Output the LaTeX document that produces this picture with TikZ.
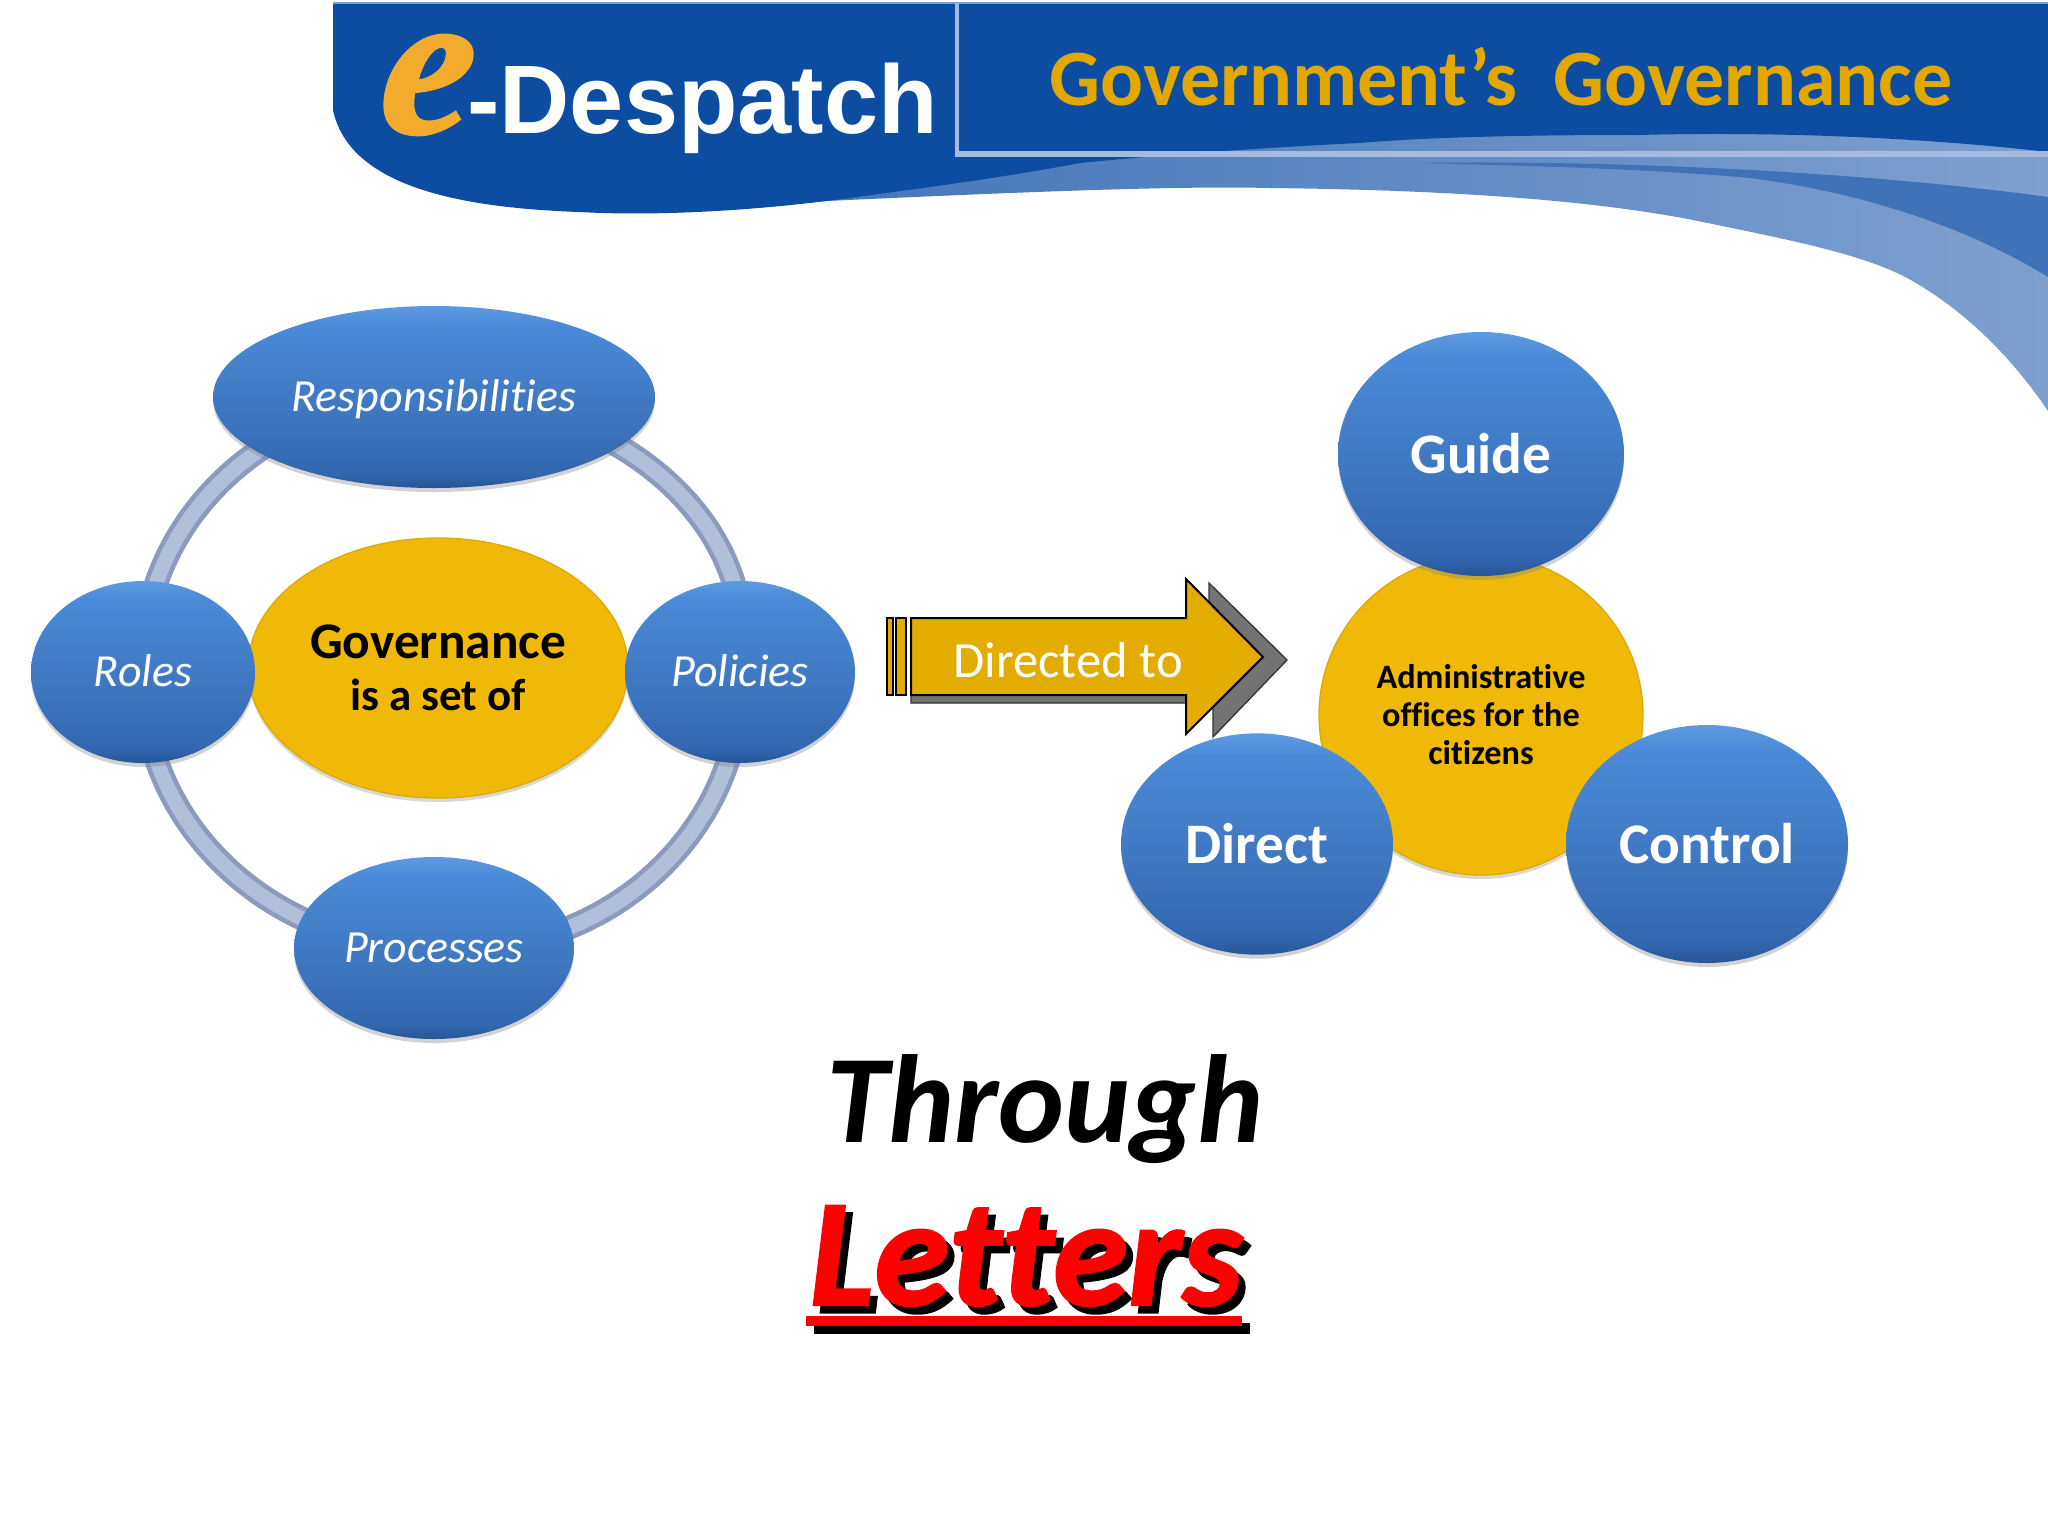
\documentclass[tikz,border=0pt]{standalone}
\usepackage{fontspec}
\setmainfont{Carlito}[Ligatures=NoCommon]
\newfontfamily\heavyfont{Carlito}[Ligatures=NoCommon,BoldItalicFeatures={FakeBold=1.4}]
\newfontfamily\logofont{Liberation Sans}
\newfontfamily\efont{Liberation Serif}[BoldItalicFeatures={FakeBold=1.6,FakeSlant=0.1}]
\usetikzlibrary{backgrounds,shadows,shapes.geometric}

\definecolor{headblue}{HTML}{0C4DA2}
\definecolor{wavelight}{HTML}{7EA0CF}
\definecolor{wavemid}{HTML}{3F72B7}
\definecolor{framelight}{HTML}{A6BAE0}
\definecolor{titlegold}{HTML}{E3A800}
\definecolor{logogold}{HTML}{F2AB2C}
\definecolor{arrowgold}{HTML}{E2AC00}
\definecolor{ballgold}{HTML}{F0B907}
\definecolor{ringblue}{HTML}{B2BFDB}
\definecolor{ringedge}{HTML}{8C9BBD}
\definecolor{ballrimlow}{HTML}{285596}
\definecolor{balllow}{HTML}{3267AF}
\definecolor{ballmid}{HTML}{417AC4}
\definecolor{ballhigh}{HTML}{4A8AD8}
\definecolor{ballrimtop}{HTML}{5E9AE2}
\pgfdeclareverticalshading{ballshade}{100bp}{color(0bp)=(ballrimlow);
  color(25bp)=(ballrimlow); color(29bp)=(balllow);
  color(50bp)=(ballmid); color(70bp)=(ballhigh);
  color(75bp)=(ballrimtop); color(100bp)=(ballrimtop)}

\tikzset{
  blueball/.style={ellipse,inner sep=0pt,shading=ballshade,text=white,align=center,
    drop shadow={shadow xshift=0pt,shadow yshift=-3pt,opacity=.35}},
  goldball/.style={ellipse,inner sep=0pt,draw=ballgold!92!black,line width=1pt,fill=ballgold,text=black,align=center,
    drop shadow={shadow xshift=0pt,shadow yshift=-3pt,opacity=.3}},
  slantlabel/.style={font=\fontsize{34.5}{38}\selectfont\itshape,text height=21pt,text depth=0pt},
  boldlabel/.style={font=\fontsize{43}{50}\selectfont\bfseries},
  ringline/.style={draw=ringedge,line width=3.5pt,double=ringblue,double distance=11pt}
}

\begin{document}
\begin{tikzpicture}[x=0.75pt,y=0.75pt,yscale=-1,xscale=1]
\useasboundingbox (0,0) rectangle (2048,1536);
%Shape: Wave
\path [left color=wavemid,middle color=wavelight!85!wavemid,right color=wavelight]   (700,207) .. controls (1050,190) and (1180,186) .. (1270,188) .. controls (1450,190) and (1590,200) .. (1693,220) .. controls (1790,240) and (1870,255) .. (1916,283) .. controls (1965,312) and (2010,355) .. (2048,411) -- (2048,120) -- (1300,120) -- cycle ;
%Shape: Stripe
\fill [wavemid]   (1415,163) .. controls (1600,160) and (1850,170) .. (2048,197) -- (2048,277) .. controls (1980,235) and (1880,195) .. (1750,178) .. controls (1640,168) and (1500,165) .. cycle ;
%Shape: Header
\fill [headblue]   (333,3) -- (2048,3) -- (2048,152) .. controls (1900,135) and (1750,132) .. (1638,135) .. controls (1500,135) and (1420,138) .. (1359,143) .. controls (1220,150) and (1130,158) .. (1080,163) .. controls (1000,178) and (930,187) .. (857,197) .. controls (750,212) and (650,216) .. (579,212) .. controls (470,208) and (350,190) .. (333,110) -- cycle ;
%Straight Lines
\draw [wavelight,line width=1.5pt]   (333,3) -- (2048,3) ;
\draw [framelight,line width=3.2pt]   (957,3) -- (957,154) ;
\draw [framelight,line width=4.5pt]   (955,154) -- (2048,154) ;
% Text Node
\draw (423,85) node (logoe) [inner sep=0pt,text=logogold,font=\efont\fontsize{100}{100}\selectfont\bfseries\itshape] {\scalebox{1.55}{e}};
% Text Node
\draw (467,133) node (logo) [anchor=base west,inner sep=0pt,text=white,font=\logofont\fontsize{73}{73}\selectfont\bfseries] {-Despatch};
% Text Node
\draw (1501,105) node (title) [anchor=base,inner sep=0pt,text=titlegold,font=\fontsize{60}{60}\selectfont\bfseries] {Government’s~~Governance};

%Shape: Ellipse
\draw (438,668) node (gov) [goldball,minimum width=285pt,minimum height=195pt,font=\fontsize{38.5}{39}\selectfont\bfseries] {Governance\\\fontsize{33.7}{39}\selectfont is a set of};
\draw (434,397) node (resp) [blueball,slantlabel,minimum width=331.5pt,minimum height=136.5pt] {Responsibilities};
\draw (143,672) node (roles) [blueball,slantlabel,minimum width=168pt,minimum height=136.5pt] {Roles};
\draw (740,672) node (policies) [blueball,slantlabel,minimum width=172.5pt,minimum height=136.5pt] {Policies};
\draw (434,948) node (processes) [blueball,slantlabel,minimum width=210pt,minimum height=136.5pt] {Processes};

\begin{scope}[on background layer]
\fill [white] (0,0) rectangle (2048,1536);
%Curve Lines
\draw [ringline]   (roles.center) .. controls +(-5,-154) and +(-161,0) .. (resp.center) ;
\draw [ringline]   (resp.center) .. controls +(175,0) and +(24,-154) .. (policies.center) ;
\draw [ringline]   (policies.center) .. controls +(8,153) and +(175,14) .. (processes.center) ;
\draw [ringline]   (processes.center) .. controls +(-161,0) and +(-4,153) .. (roles.center) ;
\end{scope}

%Shape: Arrow shadow
\draw [fill=black!55,draw=black!80,line width=1pt]   (911,695) -- (911,703) -- (1213,703) -- (1213,737) -- (1287,660) -- (1209,583) -- (1209,620) -- (1186,695) -- cycle ;
%Shape: Arrow
\draw [fill=arrowgold,line width=1.5pt]   (911,618) -- (1186,618) -- (1186,579) -- (1263,657) -- (1186,734) -- (1186,695) -- (911,695) -- cycle ;
\draw [fill=arrowgold,line width=1.5pt]   (887,618) rectangle (893,695) ;
\draw [fill=arrowgold,line width=1.5pt]   (896,618) rectangle (906,695) ;
% Text Node
\draw (1068,660) node (directed) [text=white,font=\fontsize{38}{40}\selectfont] {Directed to};

%Shape: Ellipse
\draw (1481,715) node (admin) [goldball,minimum width=243pt,minimum height=240pt,font=\fontsize{25.7}{28.5}\selectfont\bfseries] {Administrative\\offices for the\\citizens};
\draw (1481,454) node (guide) [blueball,boldlabel,minimum width=214.5pt,minimum height=183pt] {Guide};
\draw (1257,844) node (direct) [blueball,boldlabel,minimum width=204pt,minimum height=166pt] {Direct};
\draw (1707,844) node (control) [blueball,boldlabel,minimum width=211.5pt,minimum height=178.5pt] {Control};

% Text Node
\draw (1045,1142) node (through) [anchor=base,inner sep=0pt,font=\fontsize{94}{94}\selectfont\bfseries\itshape] {Through};
%Straight Lines
\fill [black]   (814,1323) rectangle (1250,1334) ;
\fill [red]   (806,1316) rectangle (1242,1326) ;
% Text Node
\draw (1033,1312.5) node (lettersback) [anchor=base,inner sep=0pt,text=black,font=\heavyfont\fontsize{115}{115}\selectfont\bfseries\itshape] {Letters};
\draw (1026,1305) node (letters) [anchor=base,inner sep=0pt,text=red,font=\heavyfont\fontsize{115}{115}\selectfont\bfseries\itshape] {Letters};
\end{tikzpicture}
\end{document}
